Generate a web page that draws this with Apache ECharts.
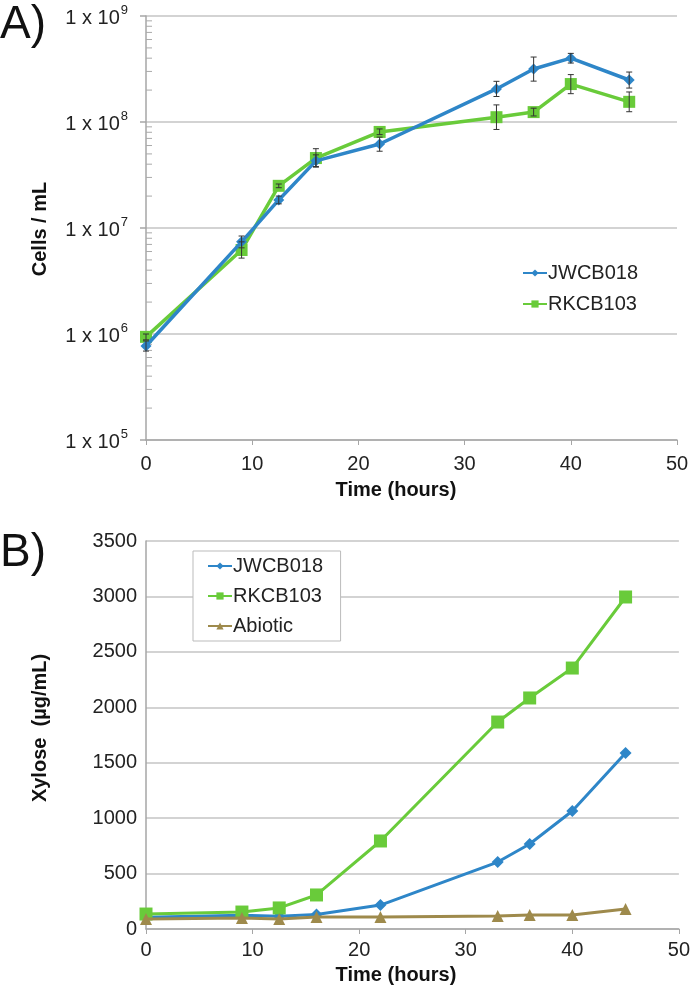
<!DOCTYPE html>
<html>
<head>
<meta charset="utf-8">
<script src="https://cdn.jsdelivr.net/npm/echarts@6/dist/echarts.min.js"></script>
<style>
html,body{margin:0;padding:0;background:#fff;}
#chart{width:693px;height:987px;}
</style>
</head>
<body>
<div id="chart"></div>
<script>
// ---------- Panel A data (cells / mL, log scale) ----------
const timeA = [0, 9, 12.5, 16, 22, 33, 36.5, 40, 45.5];
const jwcbCells = [7.7e5, 7.4e6, 1.84e7, 4.3e7, 6.2e7, 2.05e8, 3.16e8, 4.0e8, 2.49e8];
const jwcbCellsLow = [6.9e5, 6.5e6, 1.69e7, 3.8e7, 5.3e7, 1.74e8, 2.43e8, 3.6e8, 2.09e8];
const jwcbCellsHigh = [8.6e5, 8.4e6, 2.0e7, 4.9e7, 7.2e7, 2.42e8, 4.1e8, 4.44e8, 2.96e8];
const rkcbCells = [9.4e5, 6.2e6, 2.5e7, 4.57e7, 8.06e7, 1.11e8, 1.24e8, 2.28e8, 1.55e8];
const rkcbCellsLow = [8.8e5, 5.2e6, 2.4e7, 3.75e7, 7.6e7, 8.5e7, 1.14e8, 1.85e8, 1.25e8];
const rkcbCellsHigh = [1.0e6, 7.4e6, 2.6e7, 5.6e7, 8.6e7, 1.45e8, 1.35e8, 2.8e8, 1.92e8];
const majorTickValues = [1e5, 1e6, 1e7, 1e8, 1e9];
const minorTickValues = [2e5,3e5,4e5,5e5,6e5,7e5,8e5,9e5,2e6,3e6,4e6,5e6,6e6,7e6,8e6,9e6,2e7,3e7,4e7,5e7,6e7,7e7,8e7,9e7,2e8,3e8,4e8,5e8,6e8,7e8,8e8,9e8];

// ---------- Panel B data (xylose ug/mL) ----------
const timeB = [0, 9, 12.5, 16, 22, 33, 36, 40, 45];
const jwcbXylose = [105, 125, 115, 130, 216, 604, 767, 1064, 1588];
const rkcbXylose = [135, 153, 190, 307, 794, 1867, 2084, 2354, 2995];
const abioticXylose = [90, 100, 90, 108, 108, 117, 126, 126, 180];

const blue = '#2E86C8', green = '#69CB3A', brown = '#9E8A4C';
const fontFam = '"Liberation Sans", Arial, sans-serif';

function pairs(xs, ys){ return xs.map((x,i)=>[x, ys[i]]); }
function errRows(xs, lo, hi){ return xs.map((x,i)=>[x, lo[i], hi[i]]); }

function errRender(params, api){
  const x = api.value(0);
  const top = api.coord([x, api.value(2)]);
  const bot = api.coord([x, api.value(1)]);
  const w = 3;
  const st = {stroke:'#333', lineWidth:1};
  return {type:'group', children:[
    {type:'line', shape:{x1:top[0], y1:top[1], x2:bot[0], y2:bot[1]}, style:st},
    {type:'line', shape:{x1:top[0]-w, y1:top[1], x2:top[0]+w, y2:top[1]}, style:st},
    {type:'line', shape:{x1:bot[0]-w, y1:bot[1], x2:bot[0]+w, y2:bot[1]}, style:st}
  ]};
}
function minorRender(params, api){
  const p = api.coord([0, api.value(1)]);
  return {type:'line', shape:{x1:p[0], y1:p[1], x2:p[0]+6, y2:p[1]}, style:{stroke:'#aaa', lineWidth:1}};
}
function majorRender(params, api){
  const p = api.coord([0, api.value(1)]);
  return {type:'line', shape:{x1:p[0]-6, y1:p[1], x2:p[0], y2:p[1]}, style:{stroke:'#a6a6a6', lineWidth:1.5}};
}

const chart = echarts.init(document.getElementById('chart'), null, {renderer:'canvas'});
const gridColor = '#c4c4c4';
const axisColor = '#a6a6a6';
const legendText = {fontSize:20, color:'#222', fontFamily:fontFam, padding:[0,0,0,-4]};

chart.setOption({
  animation:false,
  backgroundColor:'#fff',
  textStyle:{fontFamily:fontFam},
  grid:[
    {left:146, top:16, width:531, height:424},
    {left:146, top:541, width:537, height:388}
  ],
  xAxis:[
    {gridIndex:0, type:'value', min:0, max:50, interval:10,
     axisLine:{lineStyle:{color:axisColor, width:1.5}},
     axisTick:{show:true, length:5, lineStyle:{color:axisColor}},
     splitLine:{show:false},
     axisLabel:{color:'#222', fontSize:20, margin:14, fontFamily:fontFam}},
    {gridIndex:1, type:'value', min:0, max:50, interval:10,
     axisLine:{lineStyle:{color:axisColor, width:1.5}},
     axisTick:{show:true, length:5, lineStyle:{color:axisColor}},
     splitLine:{show:false},
     axisLabel:{color:'#222', fontSize:20, margin:11, fontFamily:fontFam}}
  ],
  yAxis:[
    {gridIndex:0, type:'log', logBase:10, min:1e5, max:1e9,
     axisLine:{show:true, lineStyle:{color:axisColor, width:1.5}},
     axisTick:{show:false},
     splitLine:{show:true, lineStyle:{color:gridColor, width:1.5}},
     axisLabel:{margin:18, color:'#222', fontFamily:fontFam,
       formatter:function(v){ const e=Math.round(Math.log10(v)); return '{b|1 x 10}{s|'+e+'}'; },
       rich:{b:{fontSize:20, color:'#222', fontFamily:fontFam, lineHeight:24, verticalAlign:'bottom'},
             s:{fontSize:13, color:'#222', fontFamily:fontFam, lineHeight:24, verticalAlign:'top', padding:[0,0,4,1]}}}},
    {gridIndex:1, type:'value', min:0, max:3500, interval:500,
     axisLine:{show:true, lineStyle:{color:axisColor, width:1.5}},
     axisTick:{show:false},
     splitLine:{show:true, lineStyle:{color:gridColor, width:1.5}},
     axisLabel:{margin:9, color:'#222', fontSize:20, fontFamily:fontFam, formatter:function(v){return String(v);}}}
  ],
  legend:[
    {show:true, data:['JWCB018','RKCB103'], orient:'vertical', left:517, top:258,
     itemWidth:24, itemHeight:9, itemGap:11, textStyle:legendText},
    {show:true, orient:'vertical', left:193, top:551,
     padding:[5,12,5,14], itemWidth:24, itemHeight:9, itemGap:10,
     borderColor:'#bbb', borderWidth:1, backgroundColor:'#fff',
     textStyle:legendText,
     data:[{name:'JWCB018 '},{name:'RKCB103 '},{name:'Abiotic'}]}
  ],
  graphic:[
    {type:'text', left:0, top:2, style:{text:'A)', font:'46px '+fontFam, fill:'#111'}},
    {type:'text', left:0, top:530, style:{text:'B)', font:'46px '+fontFam, fill:'#111'}},
    {type:'text', x:40, y:229, rotation:Math.PI/2, style:{text:'Cells / mL', font:'bold 20px '+fontFam, fill:'#111', align:'center', verticalAlign:'middle'}},
    {type:'text', x:396, y:490, style:{text:'Time (hours)', font:'bold 20px '+fontFam, fill:'#111', align:'center', verticalAlign:'middle'}},
    {type:'text', x:40, y:728, rotation:Math.PI/2, style:{text:'Xylose  (µg/mL)', font:'bold 20px '+fontFam, fill:'#111', align:'center', verticalAlign:'middle'}},
    {type:'text', x:396, y:975, style:{text:'Time (hours)', font:'bold 20px '+fontFam, fill:'#111', align:'center', verticalAlign:'middle'}}
  ],
  series:[
    {name:'JWCB018', type:'line', xAxisIndex:0, yAxisIndex:0, data:pairs(timeA, jwcbCells),
     color:blue, lineStyle:{width:3.5, color:blue}, symbol:'diamond', symbolSize:11, itemStyle:{color:blue}, z:5},
    {name:'RKCB103', type:'line', xAxisIndex:0, yAxisIndex:0, data:pairs(timeA, rkcbCells),
     color:green, lineStyle:{width:3.5, color:green}, symbol:'rect', symbolSize:12, itemStyle:{color:green}, z:4},
    {type:'custom', xAxisIndex:0, yAxisIndex:0, renderItem:errRender, data:errRows(timeA, jwcbCellsLow, jwcbCellsHigh), encode:{x:0, y:[1,2]}, z:6, silent:true},
    {type:'custom', xAxisIndex:0, yAxisIndex:0, renderItem:errRender, data:errRows(timeA, rkcbCellsLow, rkcbCellsHigh), encode:{x:0, y:[1,2]}, z:6, silent:true},
    {type:'custom', xAxisIndex:0, yAxisIndex:0, renderItem:minorRender, data:minorTickValues.map(v=>[0, v]), encode:{x:0, y:1}, z:1, silent:true},
    {type:'custom', xAxisIndex:0, yAxisIndex:0, renderItem:majorRender, data:majorTickValues.map(v=>[0, v]), encode:{x:0, y:1}, z:1, silent:true},
    {name:'JWCB018 ', type:'line', xAxisIndex:1, yAxisIndex:1, data:pairs(timeB, jwcbXylose),
     color:blue, lineStyle:{width:3, color:blue}, symbol:'diamond', symbolSize:12, itemStyle:{color:blue}, z:4},
    {name:'RKCB103 ', type:'line', xAxisIndex:1, yAxisIndex:1, data:pairs(timeB, rkcbXylose),
     color:green, lineStyle:{width:3, color:green}, symbol:'rect', symbolSize:13, itemStyle:{color:green}, z:5},
    {name:'Abiotic', type:'line', xAxisIndex:1, yAxisIndex:1, data:pairs(timeB, abioticXylose),
     color:brown, lineStyle:{width:3, color:brown}, symbol:'triangle', symbolSize:12, itemStyle:{color:brown}, z:6}
  ]
});
</script>
</body>
</html>
